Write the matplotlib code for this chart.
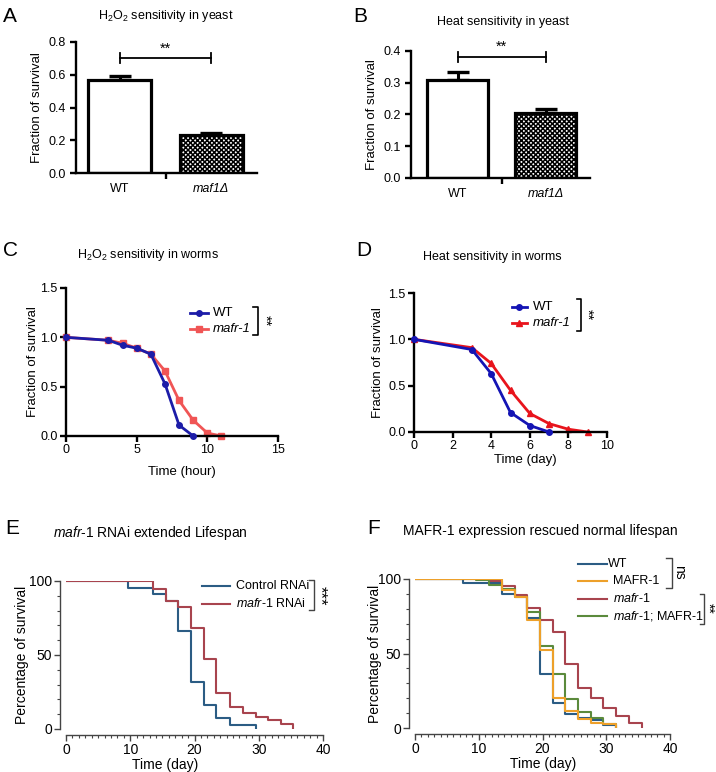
import matplotlib
matplotlib.use("Agg")
import matplotlib.pyplot as plt
from matplotlib.ticker import MultipleLocator

W, H = 716, 772

# --- A / B: yeast survival (bars) ---
YEAST_GROUPS = ["WT", "maf1Δ"]
H2O2_YEAST_MEAN = [0.57, 0.233]
H2O2_YEAST_SEM = [0.025, 0.013]
HEAT_YEAST_MEAN = [0.31, 0.205]
HEAT_YEAST_SEM = [0.024, 0.011]

# --- C: H2O2 sensitivity in worms ---
C_WT_T = [0, 3, 4, 5, 6, 7, 8, 9]
C_WT_S = [1.0, 0.97, 0.92, 0.89, 0.83, 0.53, 0.11, 0.0]
C_MAFR_T = [0, 3, 4, 5, 6, 7, 8, 9, 10, 11]
C_MAFR_S = [1.0, 0.97, 0.94, 0.89, 0.83, 0.66, 0.36, 0.16, 0.03, 0.0]

# --- D: heat sensitivity in worms ---
D_WT_T = [0, 3, 4, 5, 6, 7]
D_WT_S = [1.0, 0.89, 0.63, 0.21, 0.07, 0.0]
D_MAFR_T = [0, 3, 4, 5, 6, 7, 8, 9]
D_MAFR_S = [1.0, 0.91, 0.74, 0.45, 0.2, 0.09, 0.03, 0.0]

# --- E: RNAi lifespan (Kaplan-Meier steps) ---
E_CTRL_T = [0, 9.6, 13.6, 15.5, 17.5, 19.5, 21.5, 23.4, 25.5, 29.5]
E_CTRL_S = [100, 95, 91, 86.5, 66, 32, 16, 7.6, 2.7, 0]
E_RNAI_T = [0, 13.6, 15.5, 17.5, 19.5, 21.5, 23.4, 25.5, 27.5, 29.5, 31.5, 33.5, 35.3]
E_RNAI_S = [100, 94.4, 86.5, 82.7, 68, 47.6, 24.3, 14.8, 10.6, 8.3, 5.8, 3.6, 0]

# --- F: rescue lifespan ---
F_WT_T = [0, 7.6, 13.7, 15.7, 17.6, 19.6, 21.6, 23.6, 25.6, 27.6, 29.5, 31.5]
F_WT_S = [100, 97.6, 90, 88.8, 74, 36.4, 16.8, 9.6, 6.6, 5.2, 2.3, 0]
F_RESC_T = [0, 13.7, 15.7, 17.6, 19.6, 21.6, 23.6, 25.6, 27.6, 29.5, 31.5]
F_RESC_S = [100, 92.4, 87.7, 72.2, 52.5, 20.1, 11.1, 6.2, 3.5, 2.5, 0]
F_MAFR_T = [0, 11.6, 13.7, 15.7, 17.6, 19.6, 21.6, 23.6, 25.6, 27.6, 29.5, 31.5, 33.6, 35.6]
F_MAFR_S = [100, 98.4, 95, 89.5, 80.5, 72.5, 64.5, 43, 27, 20, 13.5, 8, 3.5, 0]
F_BOTH_T = [0, 9.6, 11.6, 13.7, 15.7, 17.6, 19.6, 21.6, 23.6, 25.6, 27.6, 29.5, 31.5]
F_BOTH_S = [100, 99, 96.2, 93.3, 88, 77.6, 54.8, 36.4, 19.7, 10.7, 6.9, 2.7, 0]

KM_BLUE = "#2b5c84"
KM_RED = "#a8444e"
KM_ORANGE = "#eda02a"
KM_GREEN = "#5b8a3c"

plt.rcParams["font.family"] = ["Liberation Sans", "DejaVu Sans"]
plt.rcParams["mathtext.fontset"] = "custom"
plt.rcParams["mathtext.rm"] = "Liberation Sans"
plt.rcParams["mathtext.it"] = "Liberation Sans:italic"
plt.rcParams["mathtext.default"] = "regular"
plt.rcParams["hatch.linewidth"] = 1.1


def px_axes(fig, left, top, right, bottom):
    return fig.add_axes([left / W, 1 - bottom / H, (right - left) / W, (bottom - top) / H])


def fig_text(fig, x, y, s, **kw):
    fig.text(x / W, 1 - y / H, s, **kw)


def draw_key(ax, x0, x1, x_text, ys, labels, colors, markers=None, fontsize=9, lw=2, ms=4):
    markers = markers or [None] * len(labels)
    for y, label, color, marker in zip(ys, labels, colors, markers):
        ax.plot([x0, x1], [y, y], transform=ax.transAxes, color=color, lw=lw, clip_on=False)
        if marker:
            ax.plot([(x0 + x1) / 2], [y], transform=ax.transAxes, color=color,
                    marker=marker, ms=ms, clip_on=False)
        ax.text(x_text, y, label, transform=ax.transAxes, va="center", ha="left",
                fontsize=fontsize)


def draw_bracket(ax, x0, x1, y_top, y_bot, label, x_label, y_label, fontsize=9,
                 color="black", lw=1.2):
    ax.plot([x0, x1, x1, x0], [y_top, y_top, y_bot, y_bot], transform=ax.transAxes,
            color=color, lw=lw, clip_on=False)
    ax.text(x_label, y_label, label, transform=ax.transAxes, rotation=270,
            ha="center", va="center", fontsize=fontsize)


def bar_panel(ax, means, sems, ymax, ystep, sig_y, cap_h, xlim):
    x = list(range(len(YEAST_GROUPS)))
    bars = ax.bar(x, means, width=0.69, color="white", edgecolor="black", linewidth=2.3,
                  zorder=2)
    bars[1].set_hatch("xxxxxxx")
    ax.errorbar(x, means, yerr=[[0] * len(sems), sems], fmt="none", ecolor="black",
                elinewidth=2.2, capsize=8, capthick=2.4, zorder=1)

    # significance bar
    ax.plot([x[0], x[1]], [sig_y, sig_y], color="black", lw=1.3, clip_on=False)
    for xi in x:
        ax.plot([xi, xi], [sig_y - cap_h, sig_y + cap_h], color="black", lw=1.3,
                clip_on=False)
    ax.text((x[0] + x[1]) / 2, sig_y + cap_h * 0.6, "**", ha="center", va="bottom",
            fontsize=10.5)

    ax.set_xlim(*xlim)
    ax.set_ylim(0, ymax)
    ax.set_yticks([i * ystep for i in range(int(round(ymax / ystep)) + 1)])
    ax.yaxis.set_major_formatter(matplotlib.ticker.FormatStrFormatter("%.1f"))
    ax.set_xticks(x)
    ax.set_xticklabels(YEAST_GROUPS)
    ax.get_xticklabels()[1].set_style("italic")
    ax.set_xticks([0.5], minor=True)
    ax.tick_params(axis="x", which="major", length=0, pad=7, labelsize=9)
    ax.tick_params(axis="x", which="minor", length=4, width=1.7)
    ax.tick_params(axis="y", length=4, width=1.7, labelsize=9)
    for side in ["top", "right"]:
        ax.spines[side].set_visible(False)
    for side in ["left", "bottom"]:
        ax.spines[side].set_linewidth(1.7)
    ax.set_ylabel("Fraction of survival", fontsize=9.5)


def curve_axes(ax, xmax, xstep):
    ax.set_xlim(0, xmax)
    ax.set_ylim(0, 1.5)
    ax.set_xticks(list(range(0, xmax + 1, xstep)))
    ax.set_yticks([0.0, 0.5, 1.0, 1.5])
    ax.yaxis.set_major_formatter(matplotlib.ticker.FormatStrFormatter("%.1f"))
    ax.tick_params(length=4, width=1.7, labelsize=9, pad=2)
    for side in ["top", "right"]:
        ax.spines[side].set_visible(False)
    for side in ["left", "bottom"]:
        ax.spines[side].set_linewidth(1.7)
    ax.set_ylabel("Fraction of survival", fontsize=9.5)


def km_axes(ax):
    ax.set_xlim(0, 40)
    ax.set_ylim(0, 100)
    ax.set_xticks([0, 10, 20, 30, 40])
    ax.set_yticks([0, 50, 100])
    ax.xaxis.set_minor_locator(MultipleLocator(1))
    ax.yaxis.set_minor_locator(MultipleLocator(10))
    ax.tick_params(which="major", length=4, width=1, color="#444444", labelsize=10, pad=2)
    ax.tick_params(which="minor", length=2, width=0.8, color="#444444")
    for side in ["top", "right"]:
        ax.spines[side].set_visible(False)
    for side in ["left", "bottom"]:
        ax.spines[side].set_linewidth(1)
        ax.spines[side].set_color("#444444")
        ax.spines[side].set_position(("outward", 4))
    ax.set_ylabel("Percentage of survival", fontsize=10)
    ax.set_xlabel("Time (day)", fontsize=10)


fig = plt.figure(figsize=(W / 100, H / 100), dpi=100)

# ---------------- A ----------------
ax_a = px_axes(fig, 76, 42, 257, 173)
bar_panel(ax_a, H2O2_YEAST_MEAN, H2O2_YEAST_SEM, 0.8, 0.2, 0.70, 0.03, (-0.48, 1.5))
ax_a.yaxis.set_label_coords(-0.182, 0.5)
fig_text(fig, 166, 16, "H$_2$O$_2$ sensitivity in yeast", ha="center", va="center", fontsize=9)

# ---------------- B ----------------
ax_b = px_axes(fig, 411, 51, 590, 178)
bar_panel(ax_b, HEAT_YEAST_MEAN, HEAT_YEAST_SEM, 0.4, 0.1, 0.381, 0.015, (-0.53, 1.5))
ax_b.yaxis.set_label_coords(-0.184, 0.5)
fig_text(fig, 503, 22, "Heat sensitivity in yeast", ha="center", va="center", fontsize=9)

# ---------------- C ----------------
ax_c = px_axes(fig, 66, 288, 278, 436)
ax_c.plot(C_WT_T, C_WT_S, color="#1c1ca8", lw=2, marker="o", ms=4, clip_on=False, zorder=3)
ax_c.plot(C_MAFR_T, C_MAFR_S, color="#f05555", lw=2, marker="s", ms=4.5, clip_on=False,
          zorder=2)
curve_axes(ax_c, 15, 5)
ax_c.yaxis.set_label_coords(-0.127, 0.5)
ax_c.set_xlabel("Time (hour)", fontsize=9.5)
ax_c.xaxis.set_label_coords(0.547, -0.203)
draw_key(ax_c, 0.585, 0.670, 0.693, [0.831, 0.723], ["WT", "mafr-1"],
         ["#1c1ca8", "#f05555"], ["o", "s"], fontsize=9.5)
ax_c.texts[-1].set_style("italic")
draw_bracket(ax_c, 0.882, 0.906, 0.872, 0.682, "**", 0.94, 0.777, fontsize=10.5)
fig_text(fig, 148, 255, "H$_2$O$_2$ sensitivity in worms", ha="center", va="center",
         fontsize=9)

# ---------------- D ----------------
ax_d = px_axes(fig, 414, 293, 607, 432)
ax_d.plot(D_WT_T, D_WT_S, color="#1414b4", lw=2, marker="o", ms=4, clip_on=False, zorder=3)
ax_d.plot(D_MAFR_T, D_MAFR_S, color="#e8141c", lw=2, marker="^", ms=5, clip_on=False,
          zorder=2)
curve_axes(ax_d, 10, 2)
ax_d.yaxis.set_label_coords(-0.155, 0.5)
ax_d.set_xlabel("Time (day)", fontsize=9.5)
ax_d.xaxis.set_label_coords(0.575, -0.158)
draw_key(ax_d, 0.508, 0.585, 0.617, [0.899, 0.784], ["WT", "mafr-1"],
         ["#1414b4", "#e8141c"], ["o", "^"], fontsize=9.5)
ax_d.texts[-1].set_style("italic")
draw_bracket(ax_d, 0.845, 0.865, 0.957, 0.727, "**", 0.898, 0.842, fontsize=10.5)
fig_text(fig, 492, 257, "Heat sensitivity in worms", ha="center", va="center", fontsize=9)

# ---------------- E ----------------
ax_e = px_axes(fig, 66, 581, 323, 729)
ax_e.step(E_CTRL_T, E_CTRL_S, where="post", color=KM_BLUE, lw=1.5)
ax_e.step(E_RNAI_T, E_RNAI_S, where="post", color=KM_RED, lw=1.5)
km_axes(ax_e)
ax_e.yaxis.set_label_coords(-0.144, 0.5)
ax_e.xaxis.set_label_coords(0.385, -0.196)
draw_key(ax_e, 0.529, 0.638, 0.661, [0.966, 0.845],
         ["Control RNAi", r"$\it{mafr}$-$\it{1}$ RNAi"], [KM_BLUE, KM_RED],
         fontsize=9, lw=1.5)
draw_bracket(ax_e, 0.946, 0.965, 1.007, 0.804, "***", 0.99, 0.899, fontsize=12,
             color="#444444", lw=1)
fig_text(fig, 150, 533, r"$\it{mafr}$-$\it{1}$ RNAi extended Lifespan", ha="center",
         va="center", fontsize=10)

# ---------------- F ----------------
ax_f = px_axes(fig, 415, 579, 670, 728)
ax_f.step(F_WT_T, F_WT_S, where="post", color=KM_BLUE, lw=1.5)
ax_f.step(F_MAFR_T, F_MAFR_S, where="post", color=KM_RED, lw=1.5)
ax_f.step(F_BOTH_T, F_BOTH_S, where="post", color=KM_GREEN, lw=1.5)
ax_f.step(F_RESC_T, F_RESC_S, where="post", color=KM_ORANGE, lw=1.5)
km_axes(ax_f)
ax_f.yaxis.set_label_coords(-0.129, 0.5)
ax_f.xaxis.set_label_coords(0.502, -0.195)
draw_key(ax_f, 0.639, 0.753, 0.776, [1.101, 0.987, 0.866, 0.752],
         ["WT", "MAFR-1", r"$\it{mafr}$-$\it{1}$", r"$\it{mafr}$-$\it{1}$; MAFR-1"],
         [KM_BLUE, KM_ORANGE, KM_RED, KM_GREEN], fontsize=9, lw=1.5)
ax_f.texts[0].set_x(0.757)
draw_bracket(ax_f, 0.984, 1.008, 1.141, 0.940, "ns", 1.035, 1.047, fontsize=10,
             color="#444444", lw=1)
draw_bracket(ax_f, 1.118, 1.133, 0.899, 0.698, "**", 1.148, 0.805, fontsize=10,
             color="#444444", lw=1)
fig_text(fig, 540, 531, "MAFR-1 expression rescued normal lifespan", ha="center",
         va="center", fontsize=10)

# panel letters
for letter, x, y in [("A", 3, 16), ("B", 353, 17), ("C", 3, 251), ("D", 356, 251),
                     ("E", 5, 528), ("F", 367, 528)]:
    fig_text(fig, x, y, letter, ha="left", va="center", fontsize=15)

fig.savefig("out.png", dpi=100)
